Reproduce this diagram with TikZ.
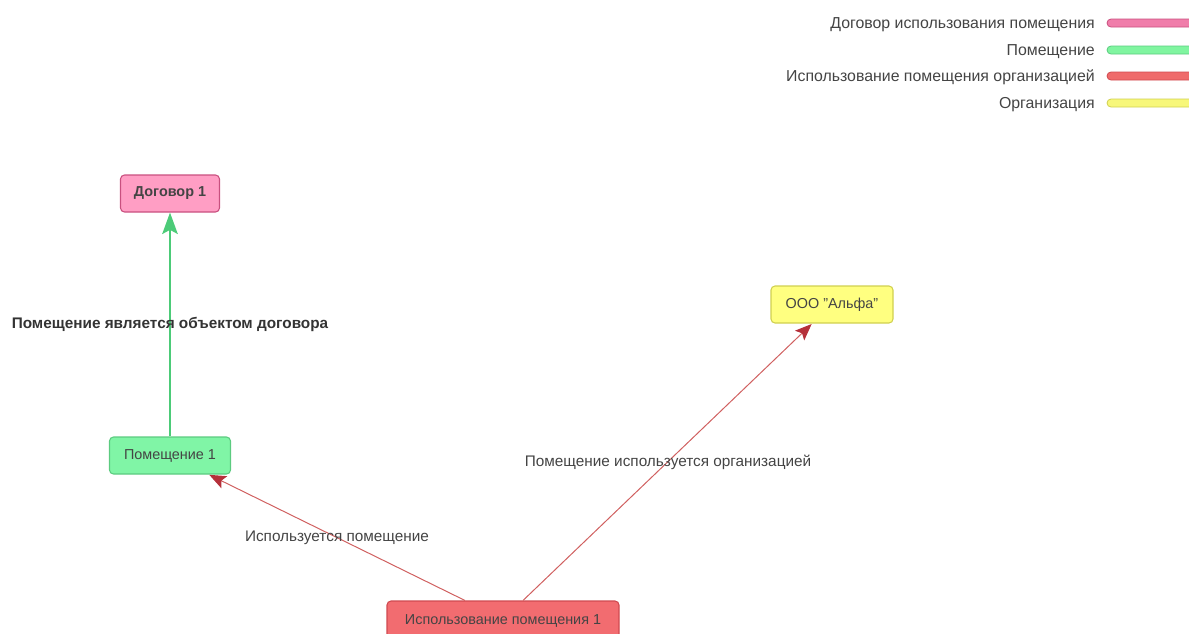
\documentclass[tikz,border=0pt]{standalone}
\usepackage{fontspec}
\setmainfont{Liberation Sans}
\usetikzlibrary{arrows.meta,calc}
\definecolor{txt}{HTML}{444444}
\definecolor{pinkF}{HTML}{FF9EC4}\definecolor{pinkD}{HTML}{C9507F}
\definecolor{greenF}{HTML}{80F5A6}\definecolor{greenD}{HTML}{5CCB80}
\definecolor{yelF}{HTML}{FFFF80}\definecolor{yelD}{HTML}{D0D050}
\definecolor{redF}{HTML}{F26C70}\definecolor{redD}{HTML}{D04A50}
\definecolor{edgeG}{HTML}{4CCB78}\definecolor{edgeR}{HTML}{D06060}\definecolor{headR}{HTML}{B5303A}
\definecolor{legP}{HTML}{F07DAA}\definecolor{legG}{HTML}{80F5A0}\definecolor{legR}{HTML}{EF6B6B}\definecolor{legY}{HTML}{F7F77A}
\tikzset{
  ent/.style={rounded corners=3pt, draw, line width=0.8pt, minimum height=27.75pt, inner xsep=9pt, font=\fontsize{10.8}{12}\selectfont, text=txt},
  elabel/.style={font=\fontsize{11.5}{13}\selectfont, text=txt, inner sep=0pt},
  legtext/.style={font=\fontsize{11.9}{13}\selectfont, text=txt, anchor=east, inner sep=0pt},
  legbar/.style={rounded corners=3pt, line width=0.6pt},
  redge/.style={draw=edgeR, line width=0.75pt, -{Stealth[length=12.5pt,width=10pt,inset=2.5pt,color=headR]}, shorten >=0.5pt},
}
\begin{document}
\begin{tikzpicture}[x=0.75pt,y=-0.75pt]
\useasboundingbox (0,0) rectangle (1189,633);
% legend
\node[legtext] (l1) at (1095,24.5) {Договор использования помещения};
\node[legtext] (l2) at (1095,51.5) {Помещение};
\node[legtext] (l3) at (1095,77.5) {Использование помещения организацией};
\node[legtext] (l4) at (1095,104.5) {Организация};
\filldraw[legbar, fill=legP, draw=pinkD] (1107,19) rectangle (1200,27);
\filldraw[legbar, fill=legG, draw=greenD] (1107,46) rectangle (1200,54);
\filldraw[legbar, fill=legR, draw=redD] (1107,72) rectangle (1200,80);
\filldraw[legbar, fill=legY, draw=yelD] (1107,99) rectangle (1200,107);
% nodes
\node[ent, fill=pinkF, draw=pinkD, font=\fontsize{10.8}{12}\selectfont\bfseries, minimum width=74.25pt] (dog) at (170,193.5) {Договор 1};
\node[ent, fill=greenF, draw=greenD, minimum width=90.75pt] (pom) at (170,455.5) {Помещение 1};
\node[ent, fill=yelF, draw=yelD, minimum width=91.5pt] (org) at (832,304.5) {ООО \char"22 Альфа\char"22};
\node[ent, fill=redF, draw=redD, minimum width=174pt, minimum height=29.25pt] (use) at (503,620.5) {Использование помещения 1};
% edges
\draw[draw=edgeG, line width=2.2pt, -{Stealth[length=16pt,width=11.5pt,inset=3pt]}] (pom.north) -- (dog.south);
\node[elabel, font=\fontsize{11.5}{13}\selectfont\bfseries, text=black!80] (lab1) at (170,324.5) {Помещение является объектом договора};
\coordinate (s1) at ($(use.north)+(-38,0)$);
\coordinate (s2) at ($(use.north)+(20,0)$);
\draw[redge] (s1) -- (pom);
\draw[redge] (s2) -- (org);
\node[elabel] (lab2) at (337,537.5) {Используется помещение};
\node[elabel] (lab3) at (668,462.5) {Помещение используется организацией};
\end{tikzpicture}
\end{document}
